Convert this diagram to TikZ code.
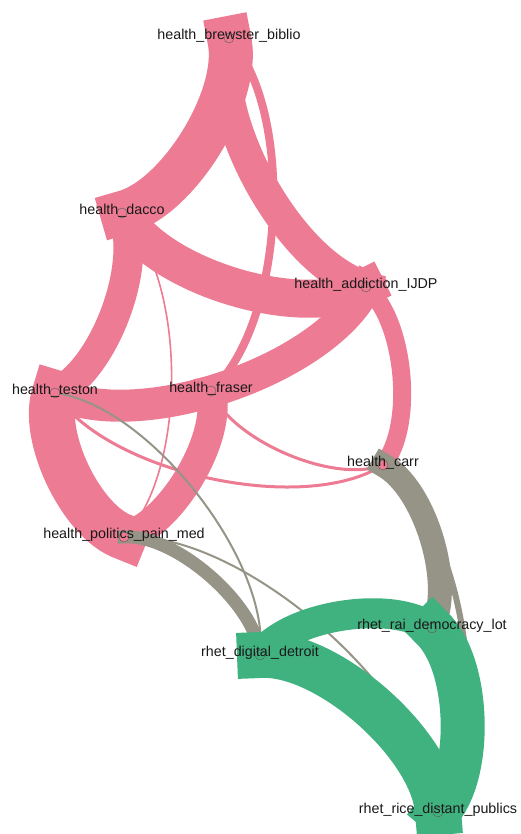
\documentclass[tikz,border=0pt]{standalone}
\usepackage{fontspec}
\setmainfont{Liberation Sans}
\definecolor{hpink}{RGB}{237,123,147}
\definecolor{rgreen}{RGB}{64,178,127}
\definecolor{xgray}{RGB}{150,148,134}
\definecolor{labtext}{RGB}{25,25,25}
\begin{document}
\begin{tikzpicture}[x=1pt,y=1pt,
  edge/.style={line cap=rect, bend left=45, looseness=0.7225},
  pinkedge/.style={edge, draw=hpink},
  grayedge/.style={edge, draw=xgray},
  greenedge/.style={edge, draw=rgreen},
  vert/.style={circle, minimum size=10pt, inner sep=0pt, draw=black!65, line width=0.4pt},
  lab/.style={anchor=base, font=\fontsize{14.3}{16}\selectfont, text=labtext, inner sep=0pt}
]
\useasboundingbox (0,0) rectangle (520,-834);
\fill[white] (0,0) rectangle (520,-834);

% node centres
\coordinate (B) at (229,-38);
\coordinate (D) at (122,-213);
\coordinate (A) at (366,-287);
\coordinate (T) at (55,-393);
\coordinate (F) at (211,-391);
\coordinate (P) at (124,-537);
\coordinate (C) at (383,-465);
\coordinate (R) at (432,-628);
\coordinate (G) at (260,-655);
\coordinate (Q) at (438,-812);

% pink edges
\draw[pinkedge, line width=44pt] (B) to (D);
\draw[pinkedge, line width=32pt] (A) to (B);
\draw[pinkedge, line width=8pt] (B) to (F);
\draw[pinkedge, line width=38pt] (A) to (D);
\draw[pinkedge, line width=30pt] (D) to (T);
\draw[pinkedge, line width=1.6pt] (D) to (P);
\draw[pinkedge, line width=32pt] (A) to (T);
\draw[pinkedge, line width=18pt] (A) to (C);
\draw[pinkedge, line width=3pt] (C) to (F);
\draw[pinkedge, line width=3pt] (C) to (T);
\draw[pinkedge, line width=46pt] (P) to (T);
\draw[pinkedge, line width=30pt] (F) to (P);

% gray edges
\draw[grayedge, line width=2pt] (T) to (G);
\draw[grayedge, line width=13pt] (P) to (G);
\draw[grayedge, line width=2pt] (P) to (Q);
\draw[grayedge, line width=24pt] (C) to (R);
\draw[grayedge, line width=6pt] (C) to (Q);

% green edges
\draw[greenedge, line width=30pt] (G) to (R);
\draw[greenedge, line width=46pt] (G) to (Q);
\draw[greenedge, line width=44pt] (R) to (Q);

% node circles
\node[vert, fill=hpink] (nB) at (B) {};
\node[vert, fill=hpink] (nD) at (D) {};
\node[vert, fill=hpink] (nA) at (A) {};
\node[vert, fill=hpink] (nT) at (T) {};
\node[vert, fill=hpink] (nF) at (F) {};
\node[vert, fill=hpink] (nP) at (P) {};
\node[vert, fill=hpink] (nC) at (C) {};
\node[vert, fill=rgreen] (nR) at (R) {};
\node[vert, fill=rgreen] (nG) at (G) {};
\node[vert, fill=rgreen] (nQ) at (Q) {};

% labels
\node[lab] (lB) at ([yshift=-1.5pt]B) {health\_brewster\_biblio};
\node[lab] (lD) at ([yshift=-1.5pt]D) {health\_dacco};
\node[lab] (lA) at ([yshift=-1.5pt]A) {health\_addiction\_IJDP};
\node[lab] (lT) at ([yshift=-1.5pt]T) {health\_teston};
\node[lab] (lF) at ([yshift=-1.5pt]F) {health\_fraser};
\node[lab] (lP) at ([yshift=-1.5pt]P) {health\_politics\_pain\_med};
\node[lab] (lC) at ([yshift=-1.5pt]C) {health\_carr};
\node[lab] (lR) at ([yshift=-1.5pt]R) {rhet\_rai\_democracy\_lot};
\node[lab] (lG) at ([yshift=-1.5pt]G) {rhet\_digital\_detroit};
\node[lab] (lQ) at ([yshift=-1.5pt]Q) {rhet\_rice\_distant\_publics};
\end{tikzpicture}
\end{document}
